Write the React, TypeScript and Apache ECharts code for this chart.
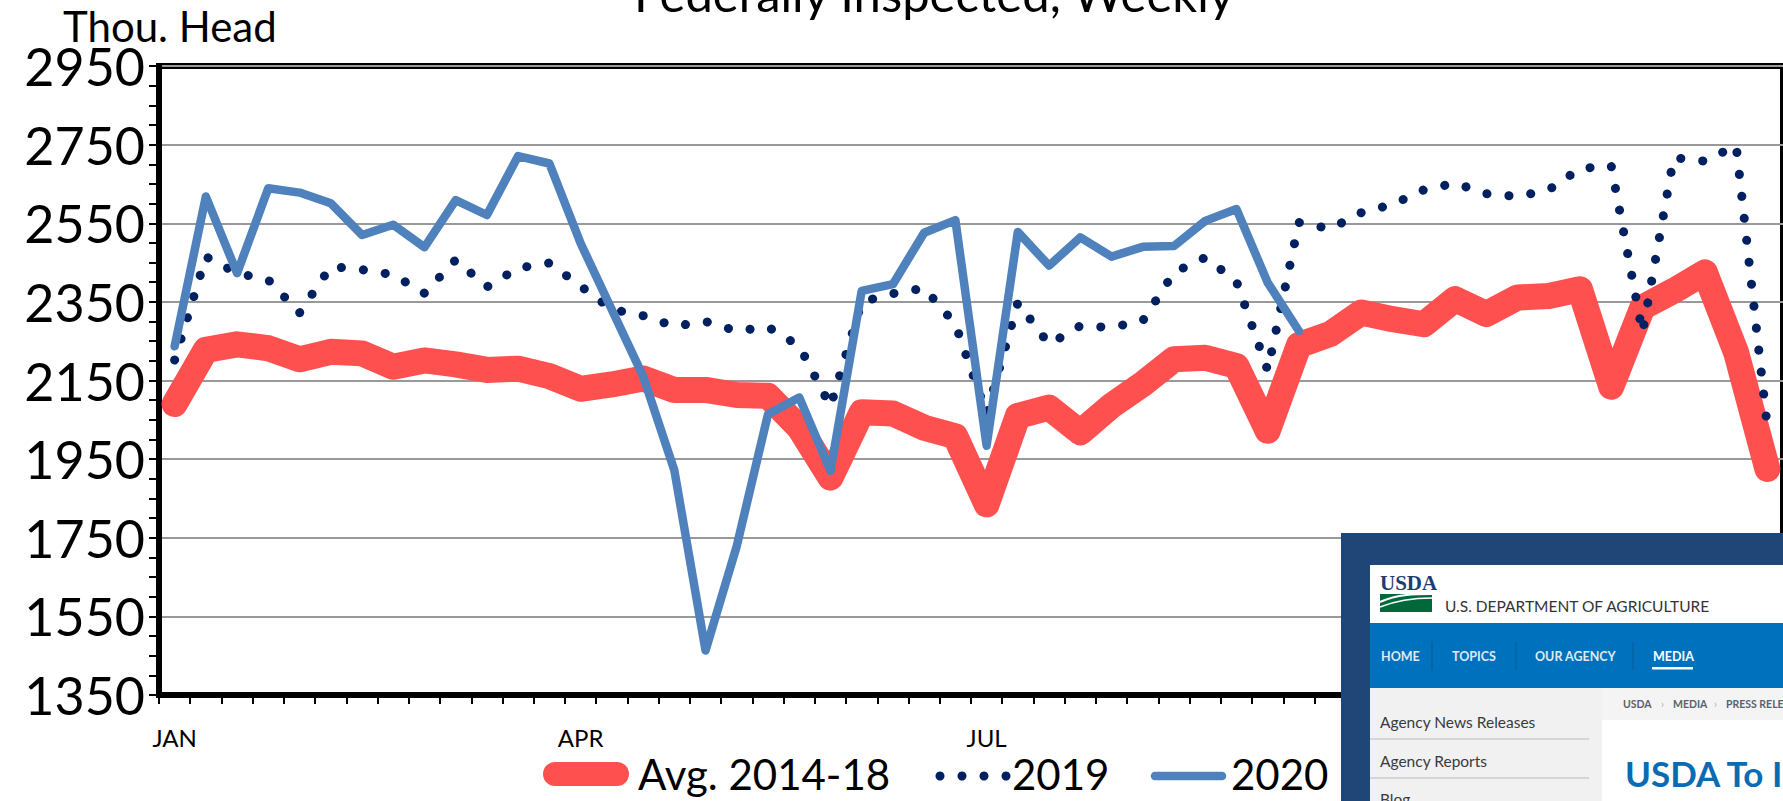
import React, { useEffect, useRef } from "react";
import * as echarts from "echarts";

// ---- data ----
const weeks = [
  "1", "2", "3", "4", "5", "6", "7", "8", "9", "10", "11", "12", "13",
  "14", "15", "16", "17", "18", "19", "20", "21", "22", "23", "24", "25", "26",
  "27", "28", "29", "30", "31", "32", "33", "34", "35", "36", "37", "38", "39",
  "40", "41", "42", "43", "44", "45", "46", "47", "48", "49", "50", "51", "52",
];
const monthLabels: Record<string, string> = { "1": "JAN", "14": "APR", "27": "JUL" };
const seriesNames = ["Avg. 2014-18", "2019", "2020"];

const avg1418 = [
  2090, 2228, 2242, 2232, 2204, 2223, 2219, 2185, 2201, 2191, 2177, 2180, 2161,
  2129, 2140, 2155, 2126, 2126, 2113, 2111, 2030, 1903, 2069, 2066, 2030, 2008,
  1835, 2060, 2081, 2018, 2086, 2141, 2204, 2208, 2187, 2022, 2240, 2268, 2323,
  2306, 2293, 2357, 2319, 2361, 2365, 2382, 2134, 2336, 2378, 2425, 2221, 1925,
];
const y2019 = [
  2202, 2465, 2423, 2406, 2322, 2440, 2432, 2419, 2372, 2457, 2388, 2436, 2449,
  2390, 2331, 2315, 2288, 2300, 2276, 2286, 2238, 2084, 2350, 2371, 2385, 2293,
  2065, 2348, 2242, 2289, 2285, 2302, 2425, 2463, 2402, 2176, 2552, 2536, 2577,
  2598, 2635, 2652, 2625, 2618, 2635, 2689, 2696, 2272, 2717, 2708, 2748, 2030,
];
const y2020 = [
  2237, 2618, 2423, 2639, 2628, 2601, 2520, 2546, 2489, 2609, 2571, 2721, 2702,
  2499, 2330, 2161, 1922, 1463, 1729, 2064, 2107, 1920, 2378, 2395, 2526, 2558,
  1984, 2528, 2442, 2514, 2465, 2490, 2492, 2556, 2586, 2399, 2276,
];
const yMin = 1350;
const yMax = 2950;
const yStep = 200;

const colors = ["#FF5050", "#002060", "#4F81BD"];
const FONT = "Lato";

export default function App() {
  const ref = useRef<HTMLDivElement>(null);
  useEffect(() => {
    document.body.style.margin = "0";
    document.body.style.overflow = "hidden";
    if (!ref.current) return;
    const chart = echarts.init(ref.current, null, { renderer: "svg" });

    const overlay: any[] = [
      { type: "rect", z: 100, shape: { x: 1341, y: 533, width: 460, height: 280 }, style: { fill: "#204678" } },
      { type: "rect", z: 101, shape: { x: 1370, y: 565, width: 430, height: 58 }, style: { fill: "#ffffff" } },
      { type: "text", z: 102, x: 1380, y: 583, style: { text: "USDA", fontFamily: "Liberation Serif", fontWeight: "bold", fontSize: 21, fill: "#1f3c72", verticalAlign: "middle" } },
      { type: "rect", z: 102, shape: { x: 1380, y: 594, width: 52, height: 18 }, style: { fill: "#00693c" } },
      { type: "bezierCurve", z: 103, shape: { x1: 1380, y1: 602, x2: 1432, y2: 594, cpx1: 1398, cpy1: 594, cpx2: 1415, cpy2: 594 }, style: { stroke: "#ffffff", lineWidth: 2, fill: null } },
      { type: "bezierCurve", z: 103, shape: { x1: 1380, y1: 607, x2: 1432, y2: 598, cpx1: 1400, cpy1: 599, cpx2: 1418, cpy2: 598 }, style: { stroke: "#ffffff", lineWidth: 1.5, fill: null } },
      { type: "text", z: 102, x: 1445, y: 606, style: { text: "U.S. DEPARTMENT OF AGRICULTURE", fontFamily: FONT, fontSize: 15.5, fill: "#333333", verticalAlign: "middle" } },
      { type: "rect", z: 101, shape: { x: 1370, y: 623, width: 430, height: 65 }, style: { fill: "#0071bc" } },
      { type: "text", z: 102, x: 1381, y: 656, style: { text: "HOME", fontFamily: FONT, fontWeight: "bold", fontSize: 12.5, fill: "#dfe9f3", verticalAlign: "middle" } },
      { type: "text", z: 102, x: 1452, y: 656, style: { text: "TOPICS", fontFamily: FONT, fontWeight: "bold", fontSize: 12.5, fill: "#dfe9f3", verticalAlign: "middle" } },
      { type: "text", z: 102, x: 1535, y: 656, style: { text: "OUR AGENCY", fontFamily: FONT, fontWeight: "bold", fontSize: 12.5, fill: "#dfe9f3", verticalAlign: "middle" } },
      { type: "text", z: 102, x: 1653, y: 656, style: { text: "MEDIA", fontFamily: FONT, fontWeight: "bold", fontSize: 12.5, fill: "#ffffff", verticalAlign: "middle" } },
      { type: "rect", z: 102, shape: { x: 1652, y: 667, width: 41, height: 2.5 }, style: { fill: "#ffffff" } },
      { type: "line", z: 102, shape: { x1: 1432, y1: 642, x2: 1432, y2: 670 }, style: { stroke: "#0a5a94", lineWidth: 1 } },
      { type: "line", z: 102, shape: { x1: 1516, y1: 642, x2: 1516, y2: 670 }, style: { stroke: "#0a5a94", lineWidth: 1 } },
      { type: "line", z: 102, shape: { x1: 1633, y1: 642, x2: 1633, y2: 670 }, style: { stroke: "#0a5a94", lineWidth: 1 } },
      { type: "rect", z: 101, shape: { x: 1370, y: 688, width: 232, height: 120 }, style: { fill: "#f1f1f1" } },
      { type: "rect", z: 101, shape: { x: 1602, y: 688, width: 200, height: 120 }, style: { fill: "#ffffff" } },
      { type: "rect", z: 101, shape: { x: 1602, y: 688, width: 200, height: 32 }, style: { fill: "#f4f4f4" } },
      { type: "text", z: 102, x: 1380, y: 722, style: { text: "Agency News Releases", fontFamily: FONT, fontSize: 15.5, fill: "#3a3a3a", verticalAlign: "middle" } },
      { type: "line", z: 102, shape: { x1: 1370, y1: 739, x2: 1589, y2: 739 }, style: { stroke: "#d6d6d6", lineWidth: 2 } },
      { type: "text", z: 102, x: 1380, y: 761, style: { text: "Agency Reports", fontFamily: FONT, fontSize: 15.5, fill: "#3a3a3a", verticalAlign: "middle" } },
      { type: "line", z: 102, shape: { x1: 1370, y1: 778, x2: 1589, y2: 778 }, style: { stroke: "#d6d6d6", lineWidth: 2 } },
      { type: "text", z: 102, x: 1380, y: 799, style: { text: "Blog", fontFamily: FONT, fontSize: 15.5, fill: "#3a3a3a", verticalAlign: "middle" } },
      { type: "text", z: 102, x: 1623, y: 704, style: { text: "USDA", fontFamily: FONT, fontWeight: "bold", fontSize: 10.5, fill: "#5b616b", verticalAlign: "middle" } },
      { type: "text", z: 102, x: 1661, y: 704, style: { text: "›", fontFamily: FONT, fontSize: 10.5, fill: "#aeb0b5", verticalAlign: "middle" } },
      { type: "text", z: 102, x: 1673, y: 704, style: { text: "MEDIA", fontFamily: FONT, fontWeight: "bold", fontSize: 10.5, fill: "#5b616b", verticalAlign: "middle" } },
      { type: "text", z: 102, x: 1714, y: 704, style: { text: "›", fontFamily: FONT, fontSize: 10.5, fill: "#aeb0b5", verticalAlign: "middle" } },
      { type: "text", z: 102, x: 1726, y: 704, style: { text: "PRESS RELE", fontFamily: FONT, fontWeight: "bold", fontSize: 10.5, fill: "#5b616b", verticalAlign: "middle" } },
      { type: "text", z: 102, x: 1625, y: 773, style: { text: "USDA To I", fontFamily: FONT, fontWeight: "bold", fontSize: 35, fill: "#0a6bb5", verticalAlign: "middle" } },
    ];

    const legendY = 774;
    const legendFont = 42;
    const legend: any[] = [
      { type: "line", z: 50, shape: { x1: 555, y1: legendY, x2: 617, y2: legendY }, style: { stroke: colors[0], lineWidth: 24, lineCap: "round" } },
      { type: "text", z: 50, x: 638, y: legendY, style: { text: seriesNames[0], fontFamily: FONT, fontSize: legendFont, fill: "#000", verticalAlign: "middle" } },
      { type: "circle", z: 50, shape: { cx: 940, cy: legendY + 2, r: 4.5 }, style: { fill: colors[1] } },
      { type: "circle", z: 50, shape: { cx: 962, cy: legendY + 2, r: 4.5 }, style: { fill: colors[1] } },
      { type: "circle", z: 50, shape: { cx: 984, cy: legendY + 2, r: 4.5 }, style: { fill: colors[1] } },
      { type: "circle", z: 50, shape: { cx: 1006, cy: legendY + 2, r: 4.5 }, style: { fill: colors[1] } },
      { type: "text", z: 50, x: 1012, y: legendY, style: { text: seriesNames[1], fontFamily: FONT, fontSize: legendFont, fill: "#000", verticalAlign: "middle" } },
      { type: "line", z: 50, shape: { x1: 1155, y1: legendY + 2, x2: 1222, y2: legendY + 2 }, style: { stroke: colors[2], lineWidth: 8.5, lineCap: "round" } },
      { type: "text", z: 50, x: 1231, y: legendY, style: { text: seriesNames[2], fontFamily: FONT, fontSize: legendFont, fill: "#000", verticalAlign: "middle" } },
    ];

    const titles: any[] = [
      { type: "text", z: 50, x: 934, y: -7, style: { text: "Federally Inspected, Weekly", fontFamily: FONT, fontSize: 49, fill: "#000", align: "center", verticalAlign: "middle" } },
      { type: "text", z: 50, x: 63, y: 26, style: { text: "Thou. Head", fontFamily: FONT, fontSize: 42, fill: "#000", verticalAlign: "middle" } },
    ];

    chart.setOption({
      animation: false,
      textStyle: { fontFamily: FONT },
      grid: { left: 159, top: 66, width: 1633, height: 629, show: true, borderColor: "#000", borderWidth: 6, containLabel: false },
      xAxis: {
        type: "category",
        data: weeks,
        boundaryGap: true,
        axisLine: { lineStyle: { color: "#000", width: 6 } },
        axisTick: { show: true, interval: 0, alignWithLabel: false, length: 9, lineStyle: { color: "#000", width: 2 } },
        axisLabel: { interval: 0, margin: 30, fontSize: 24, color: "#000", fontFamily: FONT, formatter: (v: string) => monthLabels[v] || "" },
        splitLine: { show: false },
      },
      yAxis: {
        type: "value",
        min: yMin,
        max: yMax,
        interval: yStep,
        axisLine: { show: true, lineStyle: { color: "#000", width: 6 } },
        axisTick: { show: true, length: 10, lineStyle: { color: "#000", width: 2 } },
        minorTick: { show: true, splitNumber: 4, length: 10, lineStyle: { color: "#000", width: 2 } },
        axisLabel: { fontSize: 52, lineHeight: 38, color: "#000", margin: 14, fontFamily: FONT, formatter: (v: number) => String(v) },
        splitLine: { show: true, lineStyle: { color: "#999", width: 2 } },
      },
      series: [
        {
          name: seriesNames[0], type: "line", data: avg1418, symbol: "none", z: 2,
          lineStyle: { color: colors[0], width: 26, cap: "round", join: "round" },
        },
        {
          name: seriesNames[1], type: "line", data: y2019, symbol: "none", z: 3,
          lineStyle: { color: colors[1], width: 9, type: [0.1, 22], cap: "round", join: "round" },
        },
        {
          name: seriesNames[2], type: "line", data: y2020, symbol: "none", z: 4,
          lineStyle: { color: colors[2], width: 8.5, cap: "round", join: "round" },
        },
      ],
      graphic: [...titles, ...legend, ...overlay],
    });
    return () => chart.dispose();
  }, []);
  return <div ref={ref} style={{ width: 1783, height: 801 }} />;
}
